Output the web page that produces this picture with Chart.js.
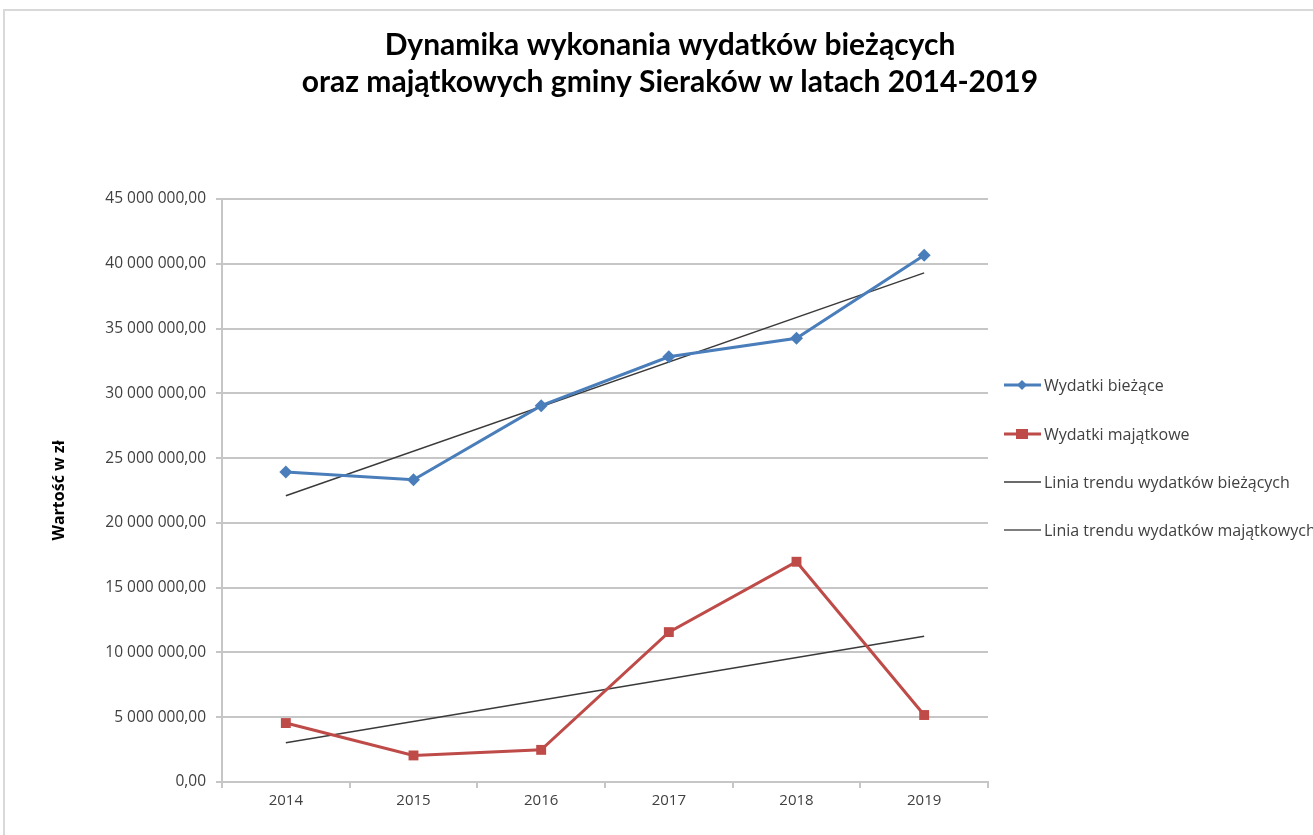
<!DOCTYPE html>
<html><head><meta charset="utf-8">
<script src="https://cdn.jsdelivr.net/npm/chart.js@4"></script>
<style>html,body{margin:0;padding:0;background:#fff}#wrap{width:1313px;height:835px}</style>
</head><body><div id="wrap"><canvas id="c" width="1313" height="835"></canvas></div>
<script>
const years = ['2014','2015','2016','2017','2018','2019'];
const wydatkiBiezace = [23920000, 23330000, 29050000, 32820000, 34250000, 40650000];
const wydatkiMajatkowe = [4550000, 2050000, 2480000, 11570000, 17000000, 5170000];
const trendBiezace = [22100000, null, null, null, null, 39300000];
const trendMajatkowe = [3030000, null, null, null, null, 11250000];
const yTicks = [0, 5000000, 10000000, 15000000, 20000000, 25000000, 30000000, 35000000, 40000000, 45000000];
const titleLines = ['Dynamika wykonania wydatków bieżących', 'oraz majątkowych gminy Sieraków w latach 2014-2019'];
const legendLabels = ['Wydatki bieżące', 'Wydatki majątkowe', 'Linia trendu wydatków bieżących', 'Linia trendu wydatków majątkowych'];

const BLUE = '#4a7ebb', RED = '#be4b48', TREND = '#3a3a3a', GRID = '#c6c6c6';

function fmt(v) {
  const s = Math.round(v).toString().replace(/\B(?=(\d{3})+(?!\d))/g, ' ');
  return s + ',00';
}

const decor = {
  id: 'decor',
  beforeDraw(chart) {
    const ctx = chart.ctx;
    ctx.save();
    ctx.strokeStyle = '#d9d9d9';
    ctx.lineWidth = 2;
    ctx.beginPath();
    ctx.moveTo(4, 1320); ctx.lineTo(4, 10); ctx.lineTo(1320, 10);
    ctx.stroke();
    ctx.restore();
  },
  afterDraw(chart) {
    const ctx = chart.ctx;
    ctx.save();
    ctx.fillStyle = '#000';
    ctx.font = 'bold 30px Lato';
    ctx.textAlign = 'center';
    ctx.textBaseline = 'middle';
    ctx.fillText(titleLines[0], 670, 45);
    ctx.fillText(titleLines[1], 670, 82);
    // legend
    const colors = [BLUE, RED, TREND, '#7f7f7f'];
    const widths = [3, 3, 1.5, 2];
    const ys = [385, 434, 482, 530];
    ctx.font = '16px "Open Sans"';
    ctx.textAlign = 'left';
    for (let i = 0; i < 4; i++) {
      const y = ys[i];
      ctx.strokeStyle = colors[i];
      ctx.lineWidth = widths[i];
      ctx.beginPath(); ctx.moveTo(1004, y); ctx.lineTo(1041, y); ctx.stroke();
      ctx.fillStyle = colors[i];
      if (i === 0) {
        ctx.beginPath(); ctx.moveTo(1022, y - 5); ctx.lineTo(1027, y); ctx.lineTo(1022, y + 5); ctx.lineTo(1017, y); ctx.closePath(); ctx.fill();
      } else if (i === 1) {
        ctx.fillRect(1016, y - 5, 12, 10);
      }
      ctx.fillStyle = '#404040';
      ctx.fillText(legendLabels[i], 1044, y + 1);
    }
    ctx.restore();
  }
};

new Chart(document.getElementById('c'), {
  type: 'line',
  data: {
    labels: years,
    datasets: [
      { label: legendLabels[0], data: wydatkiBiezace, borderColor: BLUE, backgroundColor: BLUE, borderWidth: 3,
        pointStyle: 'rectRot', pointRadius: 6.5, pointBorderWidth: 0, tension: 0 },
      { label: legendLabels[1], data: wydatkiMajatkowe, borderColor: RED, backgroundColor: RED, borderWidth: 3,
        pointStyle: 'rect', pointRadius: 7, pointBorderWidth: 0, tension: 0 },
      { label: legendLabels[2], data: trendBiezace, borderColor: TREND, borderWidth: 1.5, pointRadius: 0, spanGaps: true },
      { label: legendLabels[3], data: trendMajatkowe, borderColor: TREND, borderWidth: 1.5, pointRadius: 0, spanGaps: true }
    ]
  },
  options: {
    responsive: false,
    animation: false,
    events: [],
    layout: { padding: { left: 50, right: 325, top: 199, bottom: 0 } },
    plugins: { legend: { display: false }, title: { display: false }, tooltip: { enabled: false } },
    scales: {
      x: {
        offset: true,
        grid: { offset: true, drawOnChartArea: false, drawTicks: true, tickLength: 6, color: GRID, lineWidth: 2 },
        border: { color: GRID, width: 2 },
        ticks: { color: '#404040', font: { family: 'Open Sans', size: 15 }, padding: 4 },
        afterFit(s) { s.height = 53; }
      },
      y: {
        min: 0, max: 45000000,
        afterBuildTicks(s) { s.ticks = yTicks.map(v => ({ value: v })); },
        grid: { color: GRID, lineWidth: 2, tickLength: 6 },
        border: { color: GRID, width: 2 },
        ticks: { color: '#404040', font: { family: 'Open Sans', size: 15.5 }, padding: 10, callback: v => fmt(v) },
        title: { display: true, text: 'Wartość w zł', color: '#000', font: { family: 'Open Sans', size: 16, weight: 'bold' }, padding: 0 },
        afterFit(s) { s.width = 172; }
      }
    }
  },
  plugins: [decor]
});
</script>
</body></html>
